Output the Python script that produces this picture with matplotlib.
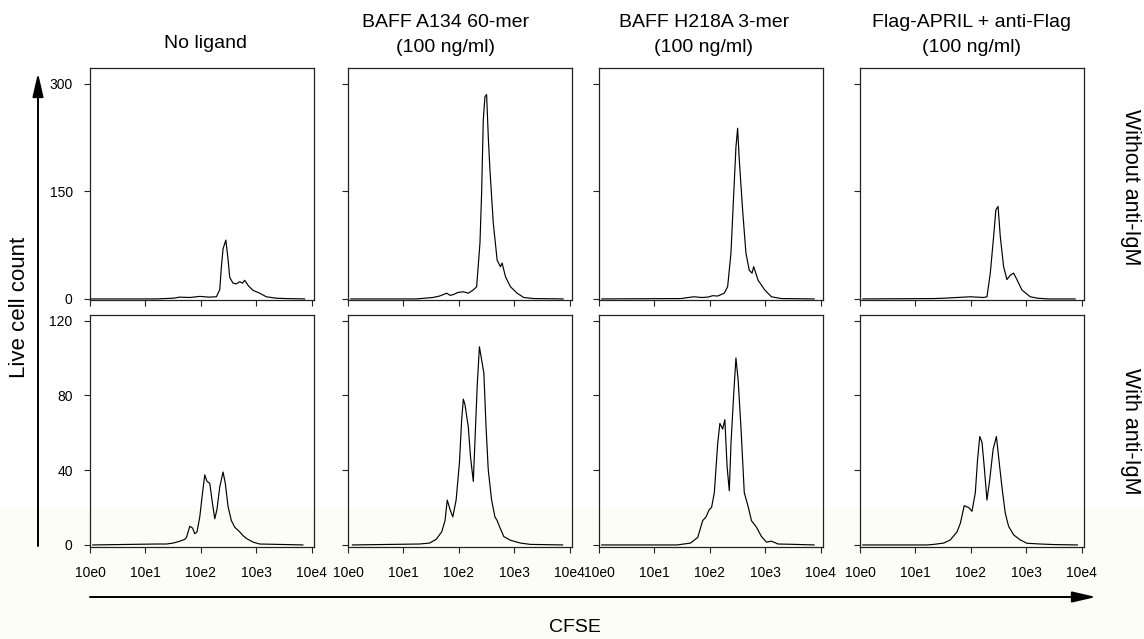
import numpy as np
import matplotlib
matplotlib.use('Agg')
import matplotlib.pyplot as plt
from matplotlib.patches import Rectangle
from matplotlib.ticker import NullLocator

plt.rcParams['font.family'] = ['Liberation Sans', 'DejaVu Sans']

# column titles / row labels
titles = ['No ligand', 'BAFF A134 60-mer\n(100 ng/ml)', 'BAFF H218A 3-mer\n(100 ng/ml)',
          'Flag-APRIL + anti-Flag\n(100 ng/ml)']
row_labels = ['Without anti-IgM', 'With anti-IgM']
xtick_vals = [1, 10, 100, 1000, 10000]
xtick_labels = ['10e0', '10e1', '10e2', '10e3', '10e4']
top_yticks = [0, 150, 300]
bot_yticks = [0, 40, 80, 120]

# CFSE position in decades (log10) and live cell counts
# --- without anti-IgM ---
noligand_top_x = [0.0, 1.20, 1.50, 1.62, 1.80, 1.98, 2.15, 2.28, 2.34, 2.37, 2.40, 2.45, 2.49, 2.52,
                  2.58, 2.64, 2.70, 2.75, 2.79, 2.86, 2.94, 3.06, 3.18, 3.36, 3.54, 3.87]
noligand_top_y = [0, 0, 1, 2.5, 2, 3.5, 2.5, 3, 13, 45, 70, 82, 55, 30,
                  22, 21, 24, 22, 26, 18, 12, 8, 3, 1, 0.5, 0]
baff60_top_x = [0.05, 1.23, 1.53, 1.65, 1.78, 1.84, 1.90, 1.98, 2.08, 2.17, 2.26, 2.32, 2.38, 2.41,
                2.44, 2.47, 2.50, 2.53, 2.56, 2.62, 2.69, 2.75, 2.78, 2.84, 2.93, 3.05, 3.17, 3.35, 3.88]
baff60_top_y = [0, 0, 2, 4, 8, 5, 6, 9, 10, 8, 12.5, 17, 78, 148,
                250, 282, 285, 226, 180, 106, 54, 45, 50, 31, 17, 8, 2, 0.5, 0]
baff3_top_x = [0.05, 1.47, 1.71, 1.85, 1.96, 2.05, 2.14, 2.26, 2.32, 2.38, 2.43, 2.47, 2.50, 2.53,
               2.59, 2.65, 2.71, 2.76, 2.79, 2.87, 2.99, 3.11, 3.29, 3.88]
baff3_top_y = [0, 0.5, 3, 2, 2.5, 4.5, 4, 8, 17, 64, 147, 212, 238, 194,
               124, 64, 40, 36, 45, 26, 12.5, 3, 0.5, 0]
april_top_x = [0.05, 1.33, 1.51, 1.75, 1.99, 2.23, 2.29, 2.35, 2.41, 2.45, 2.49, 2.53, 2.59, 2.65,
               2.71, 2.77, 2.83, 2.92, 3.07, 3.20, 3.40, 3.88]
april_top_y = [0, 0.5, 1, 2, 3, 2, 3, 36, 87, 124, 129, 87, 45, 27,
               33, 36, 27, 12.5, 3, 1, 0, 0]
# --- with anti-IgM ---
noligand_bot_x = [0.05, 1.20, 1.38, 1.50, 1.62, 1.71, 1.74, 1.80, 1.85, 1.89, 1.93, 1.98, 2.03, 2.07,
                  2.11, 2.16, 2.21, 2.25, 2.29, 2.34, 2.40, 2.44, 2.49, 2.55, 2.61, 2.70, 2.76, 2.82,
                  2.94, 3.06, 3.39, 3.84]
noligand_bot_y = [0, 0.5, 0.5, 1, 2, 3, 4, 10, 9, 6, 7, 15, 28, 37.5,
                  34, 33, 22, 14, 19, 31, 39, 33, 20.5, 13, 9.5, 7, 5, 3.5,
                  1.5, 0.5, 0.3, 0]
baff60_bot_x = [0.08, 1.29, 1.47, 1.59, 1.69, 1.75, 1.79, 1.84, 1.89, 1.95, 2.01, 2.05, 2.08, 2.11,
                2.17, 2.21, 2.26, 2.30, 2.33, 2.37, 2.41, 2.45, 2.49, 2.53, 2.59, 2.65, 2.69, 2.73,
                2.81, 2.93, 3.11, 3.29, 3.87]
baff60_bot_y = [0, 0.5, 1, 3, 7, 13, 24, 19, 15, 24, 44, 67, 78, 75,
                63, 47, 34, 63, 85, 106, 99, 92, 63, 40, 24, 15, 13, 10,
                4.5, 2.5, 1, 0.3, 0]
baff3_bot_x = [0.05, 1.41, 1.53, 1.65, 1.78, 1.87, 1.93, 1.99, 2.03, 2.08, 2.14, 2.18, 2.23, 2.27,
               2.31, 2.35, 2.38, 2.43, 2.47, 2.51, 2.56, 2.62, 2.69, 2.75, 2.84, 2.93, 3.02, 3.11,
               3.23, 3.53, 3.88]
baff3_bot_y = [0, 0, 0.5, 1, 4, 13, 15, 19, 20, 28, 54, 65, 62, 67,
               42, 29, 54, 81, 100, 88, 63, 28, 20.5, 13, 9.5, 4.5, 1.5, 2,
               0.5, 0.3, 0]
april_bot_x = [0.05, 1.21, 1.33, 1.51, 1.63, 1.75, 1.81, 1.88, 1.96, 2.02, 2.08, 2.12, 2.16, 2.20,
               2.24, 2.29, 2.34, 2.40, 2.46, 2.50, 2.56, 2.62, 2.68, 2.77, 2.89, 3.01, 3.25, 3.50, 3.92]
april_bot_y = [0, 0, 0.3, 1, 2.7, 7, 11.6, 21, 20, 18, 28, 45.5, 58, 55,
               42, 24, 35, 51, 58, 47, 31, 17, 10, 5.4, 2.7, 0.9, 0.5, 0.2, 0]

top_curves = [(noligand_top_x, noligand_top_y), (baff60_top_x, baff60_top_y),
              (baff3_top_x, baff3_top_y), (april_top_x, april_top_y)]
bot_curves = [(noligand_bot_x, noligand_bot_y), (baff60_bot_x, baff60_bot_y),
              (baff3_bot_x, baff3_bot_y), (april_bot_x, april_bot_y)]

W, H = 1144, 639
fig = plt.figure(figsize=(W / 100, H / 100), dpi=100)

# overlay in pixel coords for arrows, labels and the faint lower band
ov = fig.add_axes([0, 0, 1, 1], zorder=0)
ov.set_xlim(0, W)
ov.set_ylim(H, 0)
ov.axis('off')
ov.add_patch(Rectangle((0, 508), W, H - 508, color='#fdfdf8', lw=0, zorder=0))

arrow_style = dict(arrowstyle='-|>,head_length=1.3,head_width=0.3', color='black', lw=1.4,
                   shrinkA=0, shrinkB=0, mutation_scale=11)
ov.annotate('', xy=(38, 73), xytext=(38, 546), arrowprops=arrow_style)
ov.annotate('', xy=(1096, 597), xytext=(90, 597), arrowprops=arrow_style)

ov.text(20, 307, 'Live cell count', rotation=90, ha='center', va='center', fontsize=16)
ov.text(575, 627, 'CFSE', ha='center', va='center', fontsize=14)
ov.text(1130, 187, row_labels[0], rotation=-90, ha='center', va='center', fontsize=15.5)
ov.text(1130, 431, row_labels[1], rotation=-90, ha='center', va='center', fontsize=15.5)

col_px = [(90, 314), (348, 572), (599, 823), (860, 1084)]
title_x = [205, 446, 704, 972]
row_px = [(68, 300), (315, 547)]
ylims = [(-1.5, 322), (-1.1, 123)]
yticks = [top_yticks, bot_yticks]

for c, (l, r) in enumerate(col_px):
    ty = 44 if '\n' not in titles[c] else 35
    ov.text(title_x[c], ty, titles[c], ha='center', va='center', fontsize=14, linespacing=1.6)
    for rr, (t, b) in enumerate(row_px):
        ax = fig.add_axes([l / W, (H - b) / H, (r - l) / W, (b - t) / H], zorder=1)
        ax.set_facecolor('none')
        xs, ys = (top_curves if rr == 0 else bot_curves)[c]
        ax.plot(10 ** np.array(xs), ys, color='black', lw=0.85)
        ax.set_xscale('log')
        ax.set_xlim(1, 10 ** 4.04)
        ax.set_ylim(*ylims[rr])
        ax.set_xticks(xtick_vals)
        ax.xaxis.set_minor_locator(NullLocator())
        ax.set_yticks(yticks[rr])
        ax.tick_params(direction='out', length=4.5, width=0.8, colors='#222222',
                       labelcolor='black', labelsize=10)
        ax.tick_params(axis='x', pad=9)
        ax.tick_params(axis='y', pad=8)
        if rr == 1:
            ax.set_xticklabels(xtick_labels)
        else:
            ax.set_xticklabels([])
        if c != 0:
            ax.set_yticklabels([])
        for s in ax.spines.values():
            s.set_linewidth(0.9)
            s.set_color('#222222')

fig.savefig('out.png', dpi=100)
